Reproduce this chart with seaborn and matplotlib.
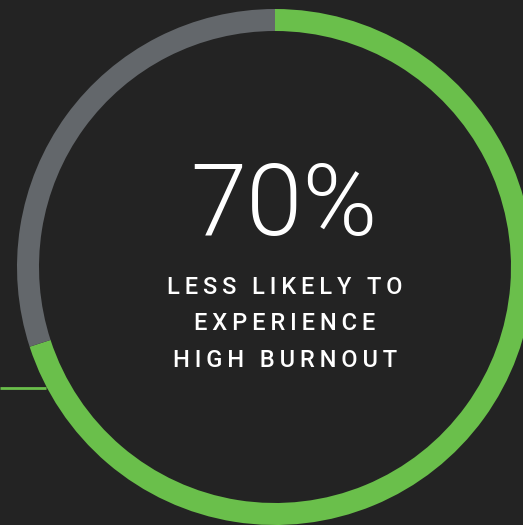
import matplotlib
matplotlib.use("Agg")
import matplotlib.pyplot as plt
import seaborn as sns

# share of the ring: likely to avoid high burnout vs the rest
labels = ["Less likely", "Rest"]
shares = [70, 30]
ring_colors = ["#6abf4b", "#63676b"]
headline = "70%"
caption_lines = ["LESS LIKELY TO", "EXPERIENCE", "HIGH BURNOUT"]

bg = "#232323"
sns.set_theme(style="dark", rc={"figure.facecolor": bg, "axes.facecolor": bg})

fig = plt.figure(figsize=(5.23, 5.25), dpi=100)
ax = fig.add_axes([0, 0, 1, 1])

# ring: starts at 12 o'clock, goes clockwise
ax.pie(shares, colors=ring_colors, startangle=90, counterclock=False,
       radius=258, center=(275, 258),
       wedgeprops=dict(width=22, linewidth=0))

# thin green leader line on the left
ax.plot([0, 46], [137, 137], color=ring_colors[0], lw=2, solid_capstyle="butt")


def spaced(s):
    # fake letter spacing with thin spaces
    return "\u2009".join(s)


ax.text(284, 318, headline, color="white", fontsize=73, fontweight=300,
        family=["Roboto", "DejaVu Sans"], ha="center", va="center")
for i, line in enumerate(caption_lines):
    ax.text(285, 237.5 - i * 36.5, spaced(line), color="white", fontsize=17,
            fontweight=500, family=["Roboto", "DejaVu Sans"],
            ha="center", va="center")

ax.set_xlim(0, 523)
ax.set_ylim(0, 525)
ax.set_aspect("auto")
ax.axis("off")

fig.savefig("out.png", dpi=100, facecolor=bg)
